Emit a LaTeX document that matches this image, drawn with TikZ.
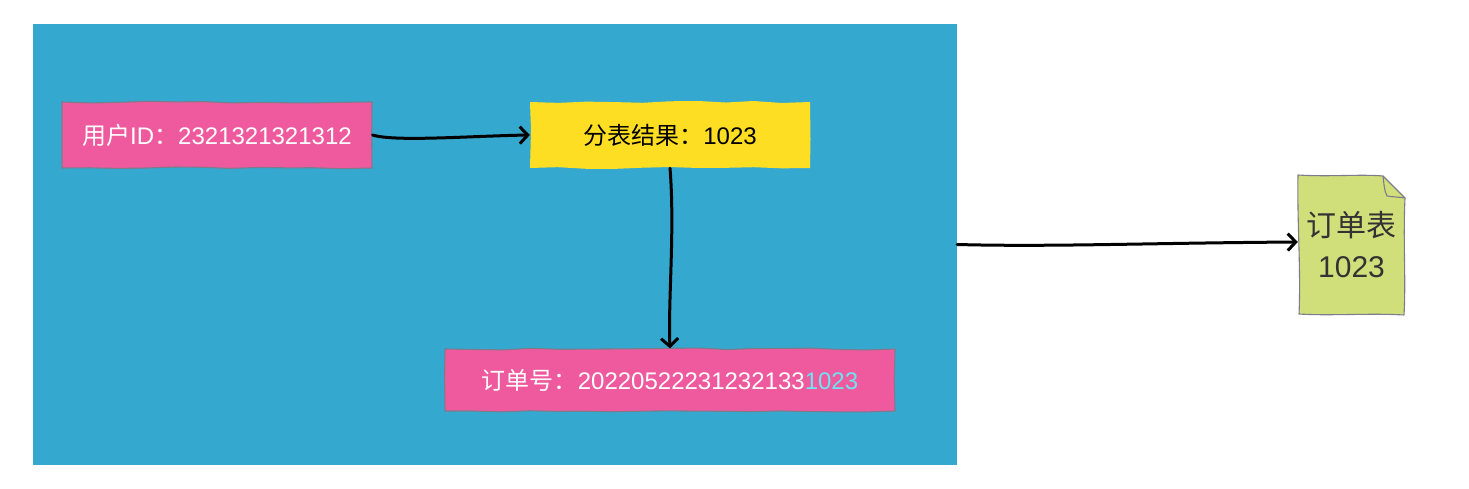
\documentclass[tikz,border=0pt]{standalone}
\usepackage{fontspec}
\setmainfont{Liberation Sans}
\newfontfamily\cjk{Noto Sans CJK SC}
\usetikzlibrary{arrows.meta,decorations.pathmorphing}
\definecolor{bgblue}{HTML}{35A8CF}
\definecolor{boxpink}{HTML}{EE5A9D}
\definecolor{boxyellow}{HTML}{FEDE22}
\definecolor{docgreen}{HTML}{D0DF7A}
\definecolor{edgegray}{HTML}{7C7C8C}
\definecolor{hlcyan}{HTML}{70E3F2}
\newcommand{\zh}[1]{{\cjk #1}}
\tikzset{
  sketch/.style={decorate, decoration={random steps, segment length=28pt, amplitude=1.0pt}},
  pinkbox/.style={sketch, fill=boxpink, draw=edgegray, line width=1.1pt, text=white,
    font=\fontsize{24}{28}\selectfont, inner sep=0pt},
  yellowbox/.style={sketch, fill=boxyellow, text=black,
    font=\fontsize{24}{28}\selectfont, inner sep=0pt},
  conn/.style={line width=3pt, line cap=round, -{Straight Barb[length=8pt, width=17pt, line width=3pt]}},
}
\begin{document}
\begin{tikzpicture}[x=1pt, y=-1pt]
\pgfmathsetseed{7}
\useasboundingbox (0,0) rectangle (1469,489);
% blue area
\node[fill=bgblue, minimum width=924pt, minimum height=441pt, inner sep=0pt] (bg) at (495,244.5) {};
% boxes
\node[pinkbox, minimum width=310pt, minimum height=66pt] (uid) at (217,135)
  {\zh{用户}ID\zh{：}2321321321312};
\node[yellowbox, minimum width=280pt, minimum height=66pt] (res) at (670,135)
  {\zh{分表结果：}1023};
\node[pinkbox, minimum width=450pt, minimum height=62pt] (ord) at (670,380)
  {\zh{订单号：}20220522231232133\textcolor{hlcyan}{1023}};
% document
\fill[docgreen] (1298,175) .. controls (1330,177) and (1360,174) .. (1383,176)
  -- (1405,198) .. controls (1403,240) and (1406,280) .. (1404,315)
  .. controls (1370,313) and (1330,316) .. (1299,314)
  .. controls (1301,270) and (1297,220) .. cycle;
\draw[edgegray, line width=1.1pt, line join=round] (1298,175) .. controls (1330,177) and (1360,174) .. (1383,176)
  -- (1405,198) .. controls (1403,240) and (1406,280) .. (1404,315)
  .. controls (1370,313) and (1330,316) .. (1299,314)
  .. controls (1301,270) and (1297,220) .. cycle;
\draw[edgegray, line width=1.1pt, line join=round] (1383,176) .. controls (1384,184) and (1384,190) .. (1387,196)
  .. controls (1393,197) and (1399,197) .. (1405,198);
\node[minimum width=107pt, minimum height=140pt, inner sep=0pt, align=center,
  text=black!80, font=\fontsize{30}{41}\selectfont] (doc) at (1351.5,245)
  {\zh{订单表}\\1023};
% connectors
\draw[conn] (uid.east) .. controls (395,142) and (470,136) .. (res.west);
\draw[conn] (res.south) .. controls ([xshift=5pt]res.south |- 0,230) and ([xshift=-2pt]ord.north |- 0,300) .. (ord.north);
\draw[conn] (bg.east) .. controls (1050,247) and (1150,243) .. ([yshift=3pt]doc.west);
\end{tikzpicture}
\end{document}
